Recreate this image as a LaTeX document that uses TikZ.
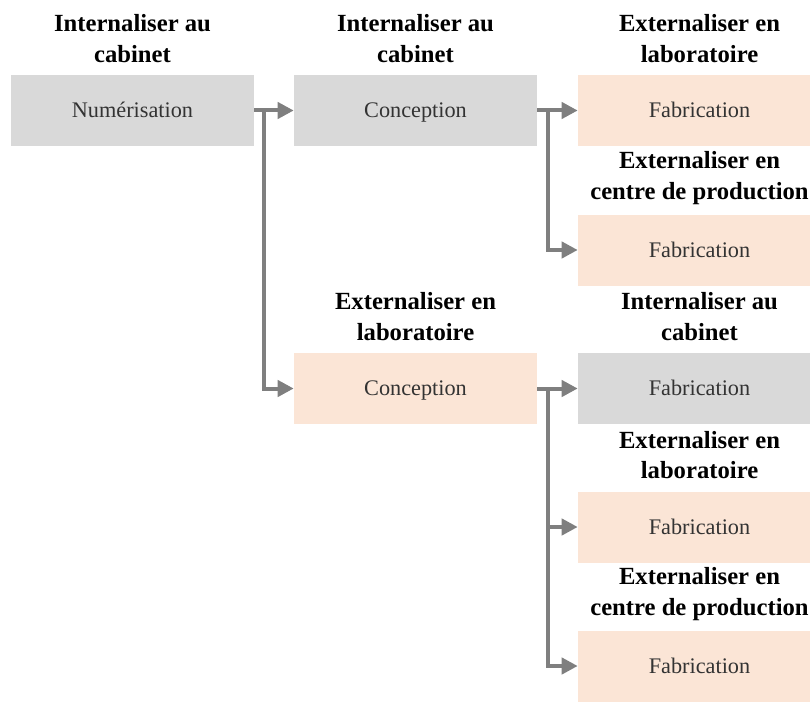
\documentclass[tikz,border=0pt]{standalone}
\usepackage{fontspec}
\setmainfont{Liberation Serif}
\usepackage{tikz}
\usetikzlibrary{arrows.meta,calc}
\definecolor{boxgrey}{HTML}{D9D9D9}
\definecolor{boxpeach}{HTML}{FBE5D6}
\definecolor{linkgrey}{HTML}{7F7F7F}
\tikzset{
  stepbox/.style={rectangle,minimum width=182.25pt,minimum height=53.25pt,inner sep=0pt,text height=13pt,text depth=2pt,font=\fontsize{16.7}{19}\selectfont,text=black!80},
  inhouse/.style={stepbox,fill=boxgrey},
  outside/.style={stepbox,fill=boxpeach},
  choice/.style={align=center,font=\fontsize{18.5}{23}\selectfont\bfseries},
  link/.style={linkgrey,line width=3pt,-{Triangle[length=12pt,width=12pt]}}
}

\begin{document}
\begin{tikzpicture}[x=0.75pt,y=-0.75pt]
		\clip (0,0) rectangle (810,706);
		\node (num)  [inhouse] at (132.5,110.5) {Numérisation};
		\node (con1) [inhouse] at (415.5,110.5) {Conception};
		\node (con2) [outside] at (415.5,388.5) {Conception};
		\node (fab1) [outside] at (699.5,110.5) {Fabrication};
		\node (fab2) [outside] at (699.5,250)   {Fabrication};
		\node (fab3) [inhouse] at (699.5,388.5) {Fabrication};
		\node (fab4) [outside] at (699.5,527)   {Fabrication};
		\node (fab5) [outside] at (699.5,666)   {Fabrication};
		\node (lnum)  [choice] at (132.5,38.5)  {Internaliser au\\cabinet};
		\node (lcon1) [choice] at (415.5,38.5)  {Internaliser au\\cabinet};
		\node (lcon2) [choice] at (415.5,316.5) {Externaliser en\\laboratoire};
		\node (lfab1) [choice] at (699.5,38.5)  {Externaliser en\\laboratoire};
		\node (lfab2) [choice] at (699.5,178)   {Externaliser en\\centre de production};
		\node (lfab3) [choice] at (699.5,316.5) {Internaliser au\\cabinet};
		\node (lfab4) [choice] at (699.5,455)   {Externaliser en\\laboratoire};
		\node (lfab5) [choice] at (699.5,594)   {Externaliser en\\centre de production};
		\draw [link] (num.east) -- (con1.west);
		\draw [link] ($(num.east)+(10,0)$) |- (con2.west);
		\draw [link] (con1.east) -- (fab1.west);
		\draw [link] ($(con1.east)+(11,0)$) |- (fab2.west);
		\draw [link] (con2.east) -- (fab3.west);
		\draw [link] ($(con2.east)+(11,0)$) |- (fab4.west);
		\draw [link] ($(con2.east)+(11,0)$) |- (fab5.west);
	\end{tikzpicture}
\end{document}
